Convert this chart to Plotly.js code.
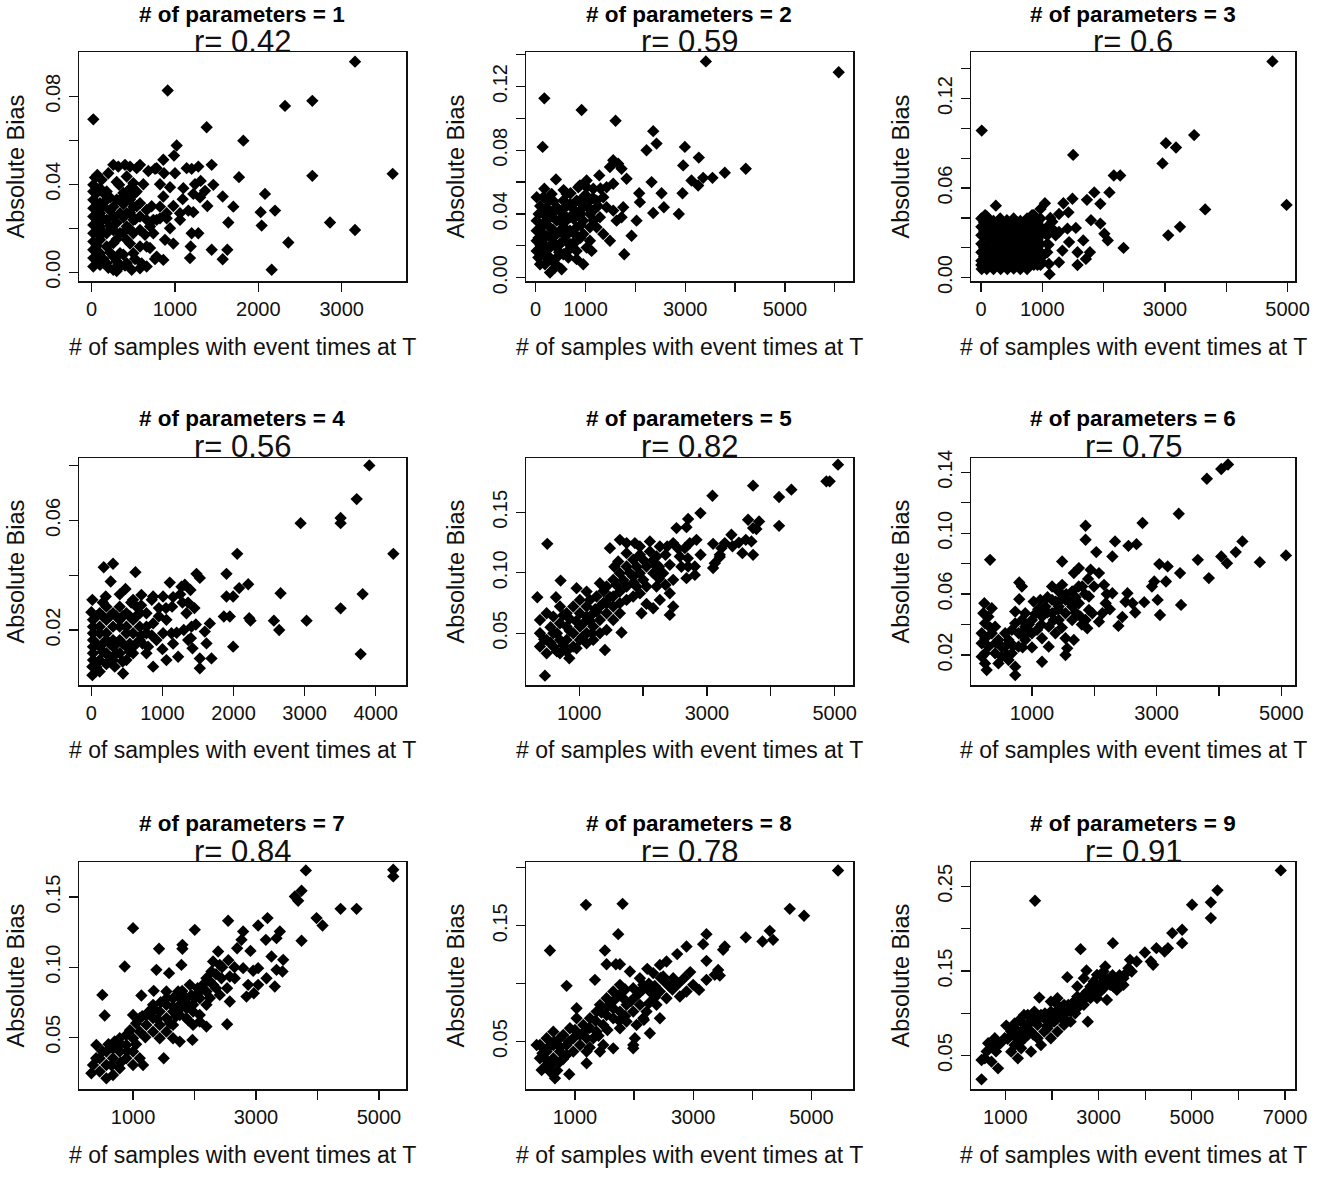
<!DOCTYPE html>
<html><head><meta charset="utf-8">
<script src="https://cdn.plot.ly/plotly-3.0.1.min.js"></script>
<style>html,body{margin:0;padding:0;background:#fff}</style>
</head><body><div id="chart" style="width:1325px;height:1191px"></div>
<script>
// ---- data ----
const paramCounts = [1,2,3,4,5,6,7,8,9];
const rValues = ['0.42','0.59','0.6','0.56','0.82','0.75','0.84','0.78','0.91'];
const xLabel = '# of samples with event times at T';
const yLabel = 'Absolute Bias';

// [samples with event times at T, absolute bias]
const p1 = [[3160,.0957],[20,.0695],[912,.0826],[2648,.0779],[2320,.0756],[1380,.0659],[1820,.0598],[1020,.0576],[988,.053],[3612,.0447],[2648,.0438],[1768,.0432],[1440,.0488],[2080,.0356],[2028,.0273],[2200,.028],[2040,.0212],[2860,.0226],[3160,.0192],[2360,.0135],[2160,.0011],[1572,.0344],[1700,.0298],[1640,.0226],[1628,.0102],[1572,.0059],[1440,.0102],[1460,.0397],[1360,.037],[1308,.0415],[1388,.0301],[1220,.0356],[1220,.0273],[1100,.0382],[1092,.0332],[1060,.0268],[980,.0301],[940,.0386],[868,.045],[860,.0511],[780,.0473],[1140,.0473],[1200,.047],[1280,.048],[1060,.0238],[1200,.0177],[1188,.0117],[1180,.0064],[1280,.0177],[860,.0344],[900,.0245],[820,.0245],[740,.0177],[880,.0147],[780,.0071],[860,.0056],[660,.0026],[580,.0018],[480,.0011],
[260,.0488],[320,.048],[400,.0488],[460,.048],[540,.0473],[580,.0488],[68,.0442],
[20,.0397],[20,.0367],[20,.0329],[20,.0291],[20,.0253],[20,.0215],[20,.0177],[20,.0139],[20,.0102],[20,.0064],[20,.0026],
[100,.0382],[100,.0314],[100,.0268],[100,.0208],[100,.0147],[100,.0086],[100,.0033],
[180,.0367],[180,.0329],[180,.0238],[180,.0177],[180,.0117],[180,.0041],
[260,.0298],[260,.0253],[260,.0192],[260,.0132],[260,.0071],[260,.0011],
[330,.0397],[340,.0329],[340,.0268],[340,.0177],[340,.0086],[340,.0026],
[420,.0435],[420,.0344],[420,.0268],[420,.0208],[420,.0147],[420,.0041],
[500,.0405],[500,.0298],[500,.0238],[500,.0177],[500,.0086],
[540,.0367],[580,.0314],[580,.0253],[580,.0192],[580,.0117],
[660,.0283],[660,.0238],[660,.0117],[700,.0208],
[740,.0238],[780,.0238],[820,.0298],[900,.0268],[460,.038],[520,.036],
[60,.036],[60,.024],[60,.012],[140,.03],[140,.018],[140,.006],[220,.034],[220,.021],[220,.009],[300,.041],[300,.0225],[300,.005],[380,.031],[380,.018],[380,.008],[460,.027],[460,.013],
[40,.043],[120,.042],[200,.045],[60,.03],[140,.036],[220,.028],[300,.033],[380,.036],[460,.033],[540,.03],[620,.04],[680,.046],[720,.03],[760,.047],[820,.04],[640,.017],[700,.011],[760,.006],[300,.015],[380,.025],[450,.02],[520,.024],[140,.024],[60,.018],[60,.006],[200,.002],[300,.0005],[400,.003],[520,.006],[600,.004],[940,.02],[980,.013],[1000,.045],[1160,.028],[1240,.04],[1300,.034]];

const p2 = [[3414,.1358],[6079,.129],[174,.1126],[922,.1053],[1603,.0985],[140,.0821],[2358,.092],[2425,.0842],[2224,.08],[2993,.0821],[3273,.0754],[2959,.0705],[4215,.0684],[3794,.0659],[3547,.0627],[3360,.0627],[3126,.061],[3260,.0579],[2325,.06],[2525,.053],[2946,.053],[2358,.0406],[2572,.0442],[2872,.04],[2077,.053],[2091,.0474],[2024,.0358],[1924,.0263],[1777,.0147],[1824,.0621],[1556,.0737],[1656,.0716],[1723,.0684],[1490,.0695],[1556,.059],[1757,.0442],[1723,.0379],[1623,.0358],[1276,.0642],[407,.0617],[174,.0558],[154,.0505],[20,.0505],[621,.0526],[321,.0526],[888,.0579],[1022,.061],[1156,.0558],[1423,.0568],[1356,.0505],[1222,.0484],[955,.0084],[822,.0116],[521,.0053],[287,.0032],[87,.0084],[1490,.0232],[1356,.0274],[1222,.0316],[1289,.0379],[1556,.0421],[1423,.0442],[1122,.0168],[1022,.0189],[1089,.0232],
[20,.0358],[20,.0295],[20,.0232],[20,.0168],[53,.0126],
[154,.04],[154,.0337],[154,.0274],[154,.0211],[154,.0147],[187,.0084],
[287,.0379],[287,.0316],[287,.0253],[287,.0189],[287,.0126],[387,.0063],
[421,.0442],[421,.0358],[421,.0274],[421,.0189],[421,.0126],
[554,.0484],[554,.04],[554,.0316],[554,.0232],[554,.0147],
[688,.0463],[688,.0379],[688,.0295],[688,.0211],[655,.0126],
[822,.0484],[822,.04],[822,.0316],[822,.0232],[822,.0168],
[955,.0505],[955,.0442],[955,.0358],[955,.0274],
[1089,.0484],[1089,.04],[1089,.0316],[855,.0568],[1022,.0568],
[90,.045],[220,.044],[360,.048],[480,.042],[620,.036],[760,.043],[900,.033],[1160,.036],[240,.012],[470,.016],[700,.02],[100,.02],[350,.03],[600,.026],[760,.028],
[60,.04],[60,.025],[100,.031],[220,.036],[220,.026],[230,.018],[350,.041],[360,.022],[350,.01],[480,.036],[480,.029],[480,.021],[620,.045],[620,.03],[620,.016],[760,.037],[760,.022],[900,.047],[900,.04],[900,.025],[1000,.052],[1050,.044],[1150,.05],[1150,.042],[1250,.045],[1300,.056],[700,.053],[560,.055],[250,.048],[120,.015],[420,.008]];

const p3 = [[4753,.1449],[11,.0985],[3476,.0955],[3015,.0901],[3180,.0872],[2960,.0765],[1502,.0822],[2165,.0684],[2270,.0684],[2094,.0571],[1847,.0571],[1727,.0521],[1946,.0494],[1491,.0528],[1343,.0498],[4983,.0487],[3656,.0457],[3245,.034],[3053,.0283],[2324,.0199],[1946,.0362],[1793,.0385],[2012,.0294],[2067,.0249],[1776,.017],[1710,.0125],[1573,.0084],[1667,.0249],[1573,.017],[1425,.0437],[1272,.0426],[1546,.0333],[1409,.0328],[1272,.0306],[1436,.0238],[1327,.0181],[1272,.0102],[1118,.0023],[1107,.0091],[1042,.0498],[970,.046],[1162,.0374],[1217,.0283],[241,.0482],
[5,.0396],[5,.034],[5,.0283],[5,.0226],[5,.017],[5,.0113],[10,.0057],
[93,.041],[93,.034],[93,.0283],[98,.0226],[93,.017],[93,.0113],[93,.0057],
[203,.038],[203,.0335],[203,.0283],[203,.0226],[203,.017],[203,.0113],[203,.0057],
[312,.0396],[312,.034],[312,.0283],[312,.0226],[312,.017],[312,.0113],[320,.0057],
[422,.0385],[422,.034],[422,.0283],[422,.0226],[422,.017],[422,.0113],[430,.0057],
[532,.0396],[532,.034],[532,.0283],[532,.0226],[532,.017],[532,.0113],[532,.006],
[641,.038],[641,.034],[641,.0283],[641,.0226],[641,.017],[641,.0113],[641,.0057],
[751,.0396],[751,.034],[751,.0283],[751,.0226],[751,.017],[751,.0113],[751,.0057],
[861,.0419],[861,.034],[861,.0283],[861,.0226],[861,.017],[861,.0113],
[970,.0396],[970,.034],[970,.0283],[970,.0226],[970,.017],[970,.0113],
[1080,.034],[1080,.0283],[1080,.0226],[1080,.017],
[66,.0419],[833,.0419],[150,.0305],[260,.025],[370,.0195],[480,.031],[590,.0255],[700,.0145],[810,.031],[920,.0255],
[50,.037],[150,.037],[260,.037],[370,.037],[480,.037],[590,.037],[700,.037],[810,.037],[920,.037],[50,.02],[150,.02],[260,.02],[370,.02],[480,.02],[590,.02],[700,.02],[810,.02],[920,.02],[50,.009],[150,.009],[260,.009],[370,.009],[480,.009],[590,.009],[700,.009],[810,.009],[1030,.03],[1130,.04],[1180,.032],[1020,.015],[1100,.022],[50,.0285],[150,.0255],[370,.031],[700,.031],[920,.014],
[50,.0312],[150,.0312],[260,.0312],[590,.0312],[810,.0312],[920,.0312],[260,.0255],[370,.0255],[480,.0255],[700,.0255],[810,.0255],[50,.0141],[150,.0141],[260,.0141],[370,.0141],[480,.0141],[590,.0141],[810,.0141],[150,.0198],[480,.0198],[590,.0198],[810,.0198],[150,.0085],[370,.0085],[590,.0085],[920,.0085],[5,.0085],[93,.0198],[203,.0141],[312,.0085],[422,.0198],[532,.0141],[641,.0085],[751,.0198],[861,.0085],[970,.0085]];

const p4 = [[3911,.0801],[3733,.0678],[3507,.0609],[3507,.059],[2944,.059],[4249,.0478],[2052,.0478],[1479,.0405],[1901,.0405],[2207,.0367],[2080,.0353],[1995,.0322],[1901,.0322],[2662,.0334],[3817,.0331],[3507,.0279],[3028,.0234],[2568,.0234],[2643,.02],[2239,.0234],[2221,.0243],[1948,.0249],[1864,.0249],[1995,.0139],[3789,.0112],[1667,.0224],[1596,.0194],[1620,.0151],[1690,.0096],[1526,.0096],[1526,.006],[1103,.0373],[704,.0328],[869,.0322],[1009,.0322],[1136,.0285],[1315,.0365],[1394,.0346],[1282,.03],[1338,.0261],[1409,.0212],[1362,.0163],[1423,.0133],[1221,.0102],[1056,.009],[869,.0066],[620,.0411],[174,.0429],[305,.0442],[272,.0377],[202,.0322],[14,.031],[0,.0265],[14,.0066],[14,.0035],[117,.0048],[446,.0041],[329,.0066],[775,.0115],[798,.0139],[587,.031],[634,.0285],[775,.0261],[869,.0224],[1009,.0188],[1127,.0188],[916,.0163],[1056,.0237],
[23,.0237],[23,.0212],[23,.0188],[23,.0163],[23,.0139],[23,.0115],[23,.009],
[117,.0261],[117,.0212],[117,.0188],[117,.0139],[117,.009],
[211,.0285],[211,.0237],[211,.0188],[211,.0163],[211,.0115],[211,.0075],
[305,.0261],[305,.0212],[305,.0163],[305,.0139],[305,.009],
[399,.0285],[399,.0237],[399,.0212],[399,.0163],[399,.0115],
[493,.0261],[493,.0212],[493,.0188],[493,.0139],[493,.009],
[587,.0237],[587,.0188],[587,.0139],[587,.0115],
[681,.0261],[681,.0212],[681,.0163],[775,.0212],[775,.0188],
[1526,.039],[1268,.0358],[950,.028],[700,.018],[1200,.019],
[70,.025],[160,.025],[260,.025],[350,.025],[440,.025],[540,.025],[630,.025],[70,.015],[160,.015],[260,.015],[350,.015],[440,.015],[540,.015],[630,.015],[720,.015],[70,.0065],[160,.012],[260,.01],[350,.0115],[440,.0085],[540,.012],[160,.03],[400,.033],[480,.035],[560,.03],[700,.029],[850,.031],[950,.025],[1050,.028],[1150,.032],[1250,.033],[1300,.02],[1150,.015],[1000,.013],[850,.018],[1360,.03],[1450,.028],[1470,.022],[1400,.017]];

const p5 = [[5052,.1895],[4870,.1757],[4922,.1757],[3722,.1721],[4322,.1688],[4129,.1627],[3086,.1638],[2898,.1494],[4129,.1389],[2705,.1445],[2679,.1378],[2523,.137],[499,.124],[3644,.1439],[3816,.1425],[3722,.137],[3774,.1362],[3608,.1273],[3696,.126],[3555,.1163],[3722,.1149],[3383,.1315],[3279,.1246],[3227,.1204],[3096,.124],[3201,.1149],[3122,.108],[3096,.1039],[2836,.1273],[2731,.1246],[2653,.1204],[2471,.1246],[2377,.1218],[2575,.1135],[2810,.1052],[2810,.0983],[2679,.0956],[2705,.1052],[2418,.1066],[2471,.0942],[2418,.0831],[2471,.0721],[2418,.0652],[2262,.0776],[2158,.0707],[2053,.0743],[1975,.0666],[1662,.0506],[1402,.0362],[958,.0376],[844,.0293],[463,.0149],[343,.0798],[635,.0798],[708,.0936],[958,.0873],[1115,.0845],[1480,.1204],[1636,.1273],[1610,.1094],[1741,.1246],[1741,.1163],[1871,.1246],[1949,.1218],[2106,.126],[2106,.1177],[2001,.1108],[2053,.1052],[2210,.1135],[2262,.1218],[2210,.1052],[2314,.0997],[2158,.0997],[2001,.0942],[1897,.0887],[2053,.0887],[2210,.0887],[1845,.0804],[1741,.0776],[1636,.0749],[1532,.0721],[1428,.0666],[1323,.061],[1219,.0555],[1115,.05],[1428,.0887],[1532,.0942],[1636,.0997],[1741,.1052],[1845,.1108],[1949,.0997],[1845,.097],[1741,.0887],[1636,.0845],[1532,.0804],[1428,.0749],[1323,.0721],[1271,.0804],[1323,.0914],[1167,.0776],[1219,.0666],[1115,.0638],[1010,.0666],[906,.0721],[1010,.0555],[906,.05],[802,.0555],[698,.0583],[593,.0638],[489,.0666],[385,.061],[385,.05],[385,.039],[489,.0445],[489,.0334],[593,.05],[593,.039],[698,.0445],[698,.0334],[802,.0445],[906,.039],[1010,.0445],[1115,.0417],[1219,.0445],[1323,.05],[1428,.0528],[1532,.061],[1636,.0666],[802,.0666],[698,.0721],[1010,.0776],[1115,.0721],
[450,.045],[550,.042],[650,.05],[750,.04],[850,.052],[950,.06],[1060,.058],[1170,.06],[1270,.068],[1380,.075],[1480,.08],[1580,.09],[1690,.094],[1790,.1],[1900,.105],[1950,.115],[2150,.11],[2250,.105],[2350,.115],[2550,.12],[2600,.105],[2250,.095],[2350,.09],[1950,.083],[1850,.092],[1550,.105],[1380,.085],[1250,.07],[850,.062],[750,.065],[550,.055],[650,.035],[800,.035],[1050,.047],[1200,.05],[2700,.112],[2900,.115],[3200,.113],[3400,.122],[3500,.125]];

const p6 = [[4145,.1451],[4037,.1422],[3806,.1358],[3355,.1128],[2774,.1067],[1860,.1049],[1860,.0957],[2333,.0946],[2548,.0917],[2677,.0928],[2032,.0876],[2290,.0847],[1484,.0814],[328,.0825],[4376,.0946],[4269,.0876],[4037,.0847],[5075,.0854],[4656,.081],[3661,.0825],[4129,.0803],[3838,.0705],[3376,.0738],[3043,.0797],[3177,.0782],[3150,.0683],[2962,.0683],[2925,.065],[3392,.0529],[3016,.0562],[3054,.0463],[2801,.0547],[2656,.0479],[2613,.054],[2532,.0606],[2387,.0391],[2290,.0606],[2183,.054],[2129,.0474],[2075,.0419],[1968,.0474],[1887,.0376],[1914,.0584],[1995,.065],[2156,.0661],[2075,.0738],[1941,.076],[1753,.0771],[1672,.0738],[1484,.0661],[1645,.0617],[1806,.065],[1753,.054],[1645,.0518],[1538,.0562],[1430,.0518],[1323,.0562],[1538,.0474],[1430,.043],[1323,.0474],[1215,.0518],[1161,.0452],[1269,.0386],[1376,.0343],[1538,.031],[1565,.0244],[1538,.02],[1672,.0299],[1161,.0156],[1269,.0255],[1161,.031],[1081,.0365],[1000,.043],[1027,.0551],[839,.065],[796,.0676],[796,.0566],[731,.0485],[892,.0474],[892,.0386],[1000,.0343],[892,.0299],[785,.0343],[785,.0255],[677,.0211],[731,.0123],[731,.0068],[624,.0167],[570,.0255],[570,.0343],[462,.0299],[409,.0386],[355,.0343],[301,.0255],[247,.0211],[247,.0145],[274,.0101],[194,.0189],[194,.0277],[194,.0343],[247,.0408],[220,.0474],[236,.054],[301,.0452],[355,.0507],[409,.0211],[462,.0145],[516,.0189],[624,.0299],[677,.0365],[731,.0408],[839,.043],[1108,.0496],[1134,.0562],[1323,.065],[1430,.0617],[1645,.043],[1780,.0452],[1860,.043],[1914,.0496],
[250,.031],[330,.038],[420,.028],[520,.025],[600,.02],[650,.028],[700,.026],[820,.034],[950,.04],[1050,.047],[1150,.04],[1250,.048],[1350,.043],[1420,.05],[1480,.057],[1550,.06],[1600,.055],[1700,.058],[1750,.065],[1850,.06],[1900,.07],[1700,.048],[1800,.04],[1480,.038],[1380,.055],[1250,.058],[1100,.05],[950,.035],[850,.025],[1000,.025],[2200,.06],[2250,.05],[2450,.045],[2500,.055]];

const p7 = [[5233,.1695],[5233,.1647],[3811,.169],[3741,.1545],[3632,.1504],[3686,.1473],[4376,.1416],[4636,.1416],[3985,.135],[4083,.1297],[3741,.1188],[3187,.135],[3035,.1297],[2547,.1331],[2004,.1266],[1000,.1278],[2791,.1254],[2764,.1195],[2693,.1135],[2910,.1116],[3160,.1195],[3388,.1254],[3334,.1207],[3252,.1076],[3442,.1052],[3334,.0981],[3431,.0969],[3171,.0921],[3306,.0862],[3035,.0993],[2954,.0974],[3035,.0874],[2965,.0814],[2845,.079],[2872,.0874],[2791,.0993],[2655,.0921],[2574,.0933],[2530,.085],[2574,.0755],[2530,.0593],[2384,.1112],[2302,.104],[2411,.1016],[2275,.0969],[2438,.0921],[2194,.0826],[2302,.0874],[2411,.0802],[2194,.0731],[2085,.0659],[2194,.0576],[2004,.0778],[1923,.0874],[1803,.1131],[1803,.1159],[1787,.1016],[1586,.0957],[1423,.1131],[1380,.0981],[1336,.0831],[1136,.0798],[864,.1005],[501,.0802],[539,.0655],[1966,.0481],[1499,.035],[1733,.0826],[1651,.0778],[1543,.0731],[1760,.0731],[1868,.0707],[1977,.0683],[2085,.0612],[1977,.0588],[1868,.0636],[1760,.0659],[1651,.0683],[1543,.0636],[1434,.0588],[1326,.0636],[1217,.0659],[1109,.0636],[1000,.0659],[1651,.0588],[1543,.054],[1651,.0493],[1760,.0469],[1434,.0493],[1326,.054],[1217,.0588],[1109,.054],[1000,.0493],[891,.0517],[783,.0493],[891,.0445],[1000,.0398],[1109,.035],[1163,.0302],[1000,.0302],[891,.035],[783,.0398],[674,.0421],[674,.035],[566,.0398],[566,.0302],[457,.035],[403,.0445],[349,.0302],[322,.0243],[457,.0255],[566,.0207],[674,.0231],[783,.0279],[2085,.0778],[2085,.0826],[2194,.0921],[1868,.0778],[1977,.0731],[1760,.0778],[1543,.0826],[1434,.0683],[1326,.0731],
[400,.035],[500,.04],[600,.045],[700,.047],[800,.045],[950,.055],[1050,.06],[1150,.065],[1250,.068],[1350,.07],[1450,.075],[1550,.078],[1650,.072],[1750,.07],[1850,.075],[1950,.08],[2050,.085],[2150,.088],[2250,.09],[2350,.095],[2450,.1],[2550,.105],[2650,.1],[2250,.078],[2350,.085],[1700,.065],[1600,.06],[1400,.063],[1200,.05],[1050,.045],[900,.04],[800,.032],[650,.03],[1800,.083],[1900,.062]];

const p8 = [[5451,.1977],[4634,.1646],[4876,.1586],[1186,.168],[1806,.1689],[1732,.1427],[577,.1286],[1507,.1286],[859,.0981],[3890,.1399],[4172,.1364],[4296,.1456],[4352,.1378],[3225,.1427],[3169,.1341],[2887,.1321],[2730,.1255],[3535,.1321],[3507,.1292],[3225,.1197],[3423,.1119],[3366,.1076],[3451,.107],[3225,.1033],[3101,.0946],[3000,.099],[2887,.0932],[2775,.0889],[2549,.1191],[2437,.1162],[2223,.1128],[2324,.1091],[2493,.1062],[2662,.1047],[2606,.0975],[2437,.0932],[2549,.0874],[2380,.0817],[2437,.0702],[2268,.0572],[2166,.0687],[2268,.0932],[2099,.0932],[2099,.1047],[2155,.099],[1986,.0961],[1930,.1105],[1761,.1168],[1693,.1168],[1535,.1168],[1338,.1033],[1761,.099],[1648,.0932],[1535,.0874],[1423,.0817],[1366,.0759],[1254,.0702],[1141,.0644],[1028,.0702],[915,.0615],[803,.0558],[1817,.0874],[1873,.0817],[1761,.0759],[1873,.0673],[1761,.0615],[1648,.0702],[1648,.0788],[1535,.073],[1479,.0644],[1366,.0586],[1310,.0529],[1423,.0414],[1479,.0471],[1648,.0442],[1986,.0471],[2014,.0529],[1986,.0442],[2099,.0817],[2155,.0702],[2211,.0759],[1986,.0759],[2042,.0644],[1197,.0529],[1085,.0471],[1197,.0414],[1197,.0313],[972,.0414],[972,.0529],[859,.0471],[859,.0385],[746,.0529],[746,.0414],[746,.0327],[634,.0586],[634,.0471],[634,.0356],[521,.0529],[521,.0414],[521,.0298],[408,.0471],[408,.0356],[437,.0255],[352,.0471],[662,.0183],[577,.0241],[904,.0218],[1085,.0558],[1028,.0788],
[450,.04],[550,.045],[650,.05],[750,.045],[900,.05],[1000,.06],[1150,.058],[1250,.062],[1350,.068],[1450,.075],[1550,.08],[1650,.085],[1750,.09],[1850,.095],[1950,.085],[2050,.09],[2150,.095],[2250,.1],[2350,.098],[2450,.105],[2550,.1],[2650,.095],[2750,.1],[2850,.105],[2950,.11],[2350,.088],[2250,.083],[1850,.072],[1750,.068],[1550,.06],[1400,.055],[1250,.045],[500,.035],[600,.03],[700,.025],[800,.035]];

const p9 = [[6909,.2689],[5551,.2453],[5409,.2311],[5409,.2125],[5006,.2283],[1637,.233],[4793,.1987],[4581,.1948],[4793,.1829],[3307,.1829],[2614,.1758],[4489,.177],[4241,.177],[4418,.1731],[3994,.1719],[4121,.1613],[4171,.1573],[3817,.1613],[3675,.1632],[3640,.1534],[3711,.1494],[3534,.1415],[3392,.1376],[3321,.1317],[3144,.1553],[3108,.1494],[2967,.1455],[2741,.1506],[2684,.1415],[2330,.1427],[2543,.1317],[2755,.1257],[2826,.1317],[3038,.1257],[3180,.1159],[2967,.1179],[2769,.0902],[2684,.11],[2472,.1139],[2543,.106],[2330,.1021],[2401,.0902],[2260,.0863],[2118,.0942],[2118,.11],[1977,.1021],[1977,.0902],[1835,.0942],[1729,.1186],[1835,.0784],[1694,.0863],[1552,.0942],[1552,.0784],[1410,.0705],[1269,.0705],[1304,.0922],[1021,.0855],[1127,.0784],[986,.0705],[1127,.0547],[1269,.0468],[1198,.0626],[1340,.0587],[844,.0626],[774,.0705],[632,.0646],[561,.0468],[490,.0449],[703,.0429],[844,.035],[490,.022],[1410,.0863],[1481,.0981],[1623,.1021],[1764,.0981],[1694,.0705],[1764,.0626],[1977,.0705],[2118,.0784],[2260,.0942],[2401,.1021],[2118,.1179],[2260,.11],[2543,.1198],[2684,.1218],[2826,.1179],[2967,.1257],[3108,.1297],[3250,.1336],[3392,.1277],[3108,.1415],[2896,.1376],[3534,.1336],[1552,.0547],[1481,.0745],[1906,.0823],[2047,.0902],[2189,.1001],[1977,.1139],
[600,.055],[700,.06],[800,.055],[900,.065],[1050,.07],[1150,.075],[1250,.08],[1350,.078],[1450,.085],[1550,.09],[1650,.092],[1750,.095],[1850,.1],[1950,.098],[2050,.1],[2150,.105],[2250,.108],[2350,.11],[2450,.105],[2550,.112],[2650,.115],[2750,.12],[2850,.125],[2950,.13],[3050,.135],[3200,.14],[3300,.145],[3450,.145],[3600,.148],[1300,.065],[1600,.075],[1900,.085],[2200,.095],[2500,.1],[1400,.098],[1200,.088]];

// tick marks and labels (R hides labels that would overlap)
const xTickVals = [[0,1000,2000,3000],[0,1000,2000,3000,4000,5000,6000],[0,1000,2000,3000,4000,5000],[0,1000,2000,3000,4000],[1000,2000,3000,4000,5000],[1000,2000,3000,4000,5000],[1000,2000,3000,4000,5000],[1000,2000,3000,4000,5000],[1000,2000,3000,4000,5000,6000,7000]];
const xTickText = [['0','1000','2000','3000'],['0','1000','','3000','','5000',''],['0','1000','','3000','','5000'],['0','1000','2000','3000','4000'],['1000','','3000','','5000'],['1000','','3000','','5000'],['1000','','3000','','5000'],['1000','','3000','','5000'],['1000','','3000','','5000','','7000']];
const yTickVals = [[0,.02,.04,.06,.08],[0,.02,.04,.06,.08,.10,.12,.14],[0,.02,.04,.06,.08,.10,.12,.14],[.02,.04,.06,.08],[.05,.10,.15],[.02,.04,.06,.08,.10,.12,.14],[.05,.10,.15],[.05,.10,.15,.20],[.05,.10,.15,.20,.25]];
const yTickText = [['0.00','','0.04','','0.08'],['0.00','','0.04','','0.08','','0.12',''],['0.00','','','0.06','','','0.12',''],['0.02','','0.06',''],['0.05','0.10','0.15'],['0.02','','0.06','','0.10','','0.14'],['0.05','0.10','0.15'],['0.05','','0.15',''],['0.05','','0.15','','0.25']];

const panels = [p1,p2,p3,p4,p5,p6,p7,p8,p9];

// ---- layout (pixel geometry) ----
const W = 1325, H = 1191;
const colL = [79,526,971], colR = [406,853,1295];
const rowT = [52,458,862], rowB = [281,685,1089];
const xRanges = [[-152,3772],[-194,6366],[-164,5121],[-174,4427],[166,5287],[22,5220],[121,5440],[172,5704],[264,7214]];
const yRanges = [[-0.004,0.1001],[-0.0021,0.1417],[-0.0023,0.1512],[-0.0001,0.0828],[0.0072,0.195],[0.0003,0.1494],[0.0131,0.175],[0.0091,0.205],[0.0106,0.2788]];
const titleY = [15,418,823], rY = [41,446,851], xTitleY = [347,750,1155];
const yTitleX = [15,455,900];

const FONT = 'Liberation Sans, Arial, Helvetica, sans-serif';
const traces = [], annotations = [];
const layout = {
  width: W, height: H, margin: {l:0,r:0,t:0,b:0},
  paper_bgcolor: '#fff', plot_bgcolor: '#fff', showlegend: false,
  font: {family: FONT, color: '#111'}, hovermode: false
};

panels.forEach((pts, i) => {
  const col = i % 3, row = Math.floor(i / 3);
  const sfx = i === 0 ? '' : String(i + 1);
  traces.push({
    type: 'scatter', mode: 'markers',
    x: pts.map(p => p[0]), y: pts.map(p => p[1]),
    xaxis: 'x' + sfx, yaxis: 'y' + sfx,
    marker: {symbol: 'diamond', size: 9.5, color: '#000', line: {width: 0}},
    cliponaxis: false
  });
  const common = {
    showline: true, mirror: true, linecolor: '#111', linewidth: 1.5,
    ticks: 'outside', ticklen: 9, tickwidth: 1.3, tickcolor: '#111',
    showgrid: false, zeroline: false, fixedrange: true,
    tickfont: {family: FONT, size: 20, color: '#111'}, tickmode: 'array'
  };
  layout['xaxis' + sfx] = Object.assign({}, common, {
    domain: [colL[col] / W, colR[col] / W],
    range: xRanges[i], anchor: 'y' + sfx,
    tickvals: xTickVals[i], ticktext: xTickText[i],
    ticklabelstandoff: 0
  });
  layout['yaxis' + sfx] = Object.assign({}, common, {
    domain: [1 - rowB[row] / H, 1 - rowT[row] / H],
    range: yRanges[i], anchor: 'x' + sfx,
    tickvals: yTickVals[i], ticktext: yTickText[i],
    tickangle: -90, ticklabelstandoff: 1
  });
  const cx = (colL[col] + colR[col]) / 2 / W;
  annotations.push({xref:'paper', yref:'paper', x: cx, y: 1 - titleY[row] / H, xanchor:'center', yanchor:'middle', showarrow:false,
    text: '<b># of parameters = ' + paramCounts[i] + '</b>', font: {family: FONT, size: 22.5, color: '#000'}});
  annotations.push({xref:'paper', yref:'paper', x: cx, y: 1 - rY[row] / H, xanchor:'center', yanchor:'middle', showarrow:false,
    text: 'r= ' + rValues[i], font: {family: FONT, size: 31, color: '#111'}});
  annotations.push({xref:'paper', yref:'paper', x: cx, y: 1 - xTitleY[row] / H, xanchor:'center', yanchor:'middle', showarrow:false,
    text: xLabel, font: {family: FONT, size: 23, color: '#111'}});
  annotations.push({xref:'paper', yref:'paper', x: yTitleX[col] / W, y: 1 - (rowT[row] + rowB[row]) / 2 / H, xanchor:'center', yanchor:'middle', showarrow:false,
    textangle: -90, text: yLabel, font: {family: FONT, size: 23.5, color: '#111'}});
});
layout.annotations = annotations;

Plotly.newPlot('chart', traces, layout, {staticPlot: true, displayModeBar: false});
</script></body></html>
